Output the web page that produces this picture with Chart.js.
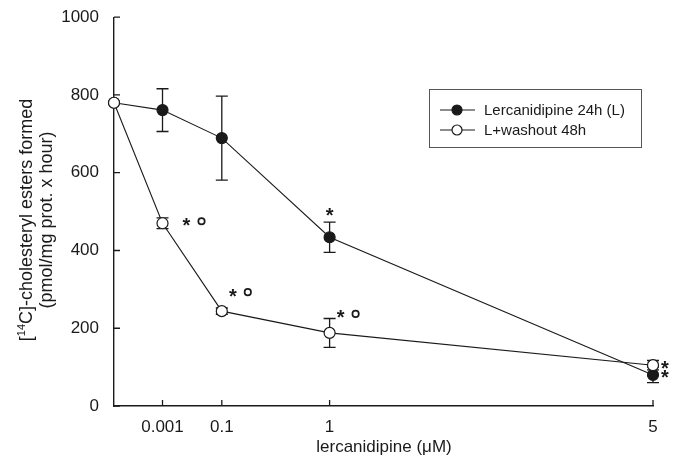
<!DOCTYPE html>
<html>
<head>
<meta charset="utf-8">
<script src="https://cdn.jsdelivr.net/npm/chart.js@4.4.0/dist/chart.umd.min.js"></script>
<style>
  html, body { margin: 0; padding: 0; background: #fff; }
  #wrap { width: 678px; height: 457px; }
</style>
</head>
<body>
<div id="wrap"><canvas id="myChart" width="678" height="457"></canvas></div>
<script>
// concentrations (uM) and where they sit on the drawn x axis
const doseLabels = ["", "0.001", "0.1", "1", "5"]
const dosePos = [0, 0.45, 1, 2, 5]

const lercMean = [780, 761, 689, 434, 80]
const lercErr = [0, 55, 108, 39, 20]
const washMean = [780, 470, 244, 188, 105]
const washErr = [0, 14, 8, 37, 12]

const yTicks = [0, 200, 400, 600, 800, 1000]

// significance marks: [series, index, text]
const marks = [
    ["wash", 1, "*o"],
    ["wash", 2, "*o"],
    ["wash", 3, "*o"],
    ["lerc", 3, "*up"],
    ["wash", 4, "*"],
    ["lerc", 4, "*"],
]

const FONT = "'Liberation Sans', Arial, sans-serif"
const INK = "#1a1a1a"

const toPoints = (arr) => arr.map((v, i) => ({ x: dosePos[i], y: v }))

const errorBars = {
    id: "errorBars",
    beforeDatasetsDraw(chart) {
        const ctx = chart.ctx
        const xs = chart.scales.x, ys = chart.scales.y
        const sets = [[lercMean, lercErr], [washMean, washErr]]
        ctx.save()
        ctx.strokeStyle = INK
        ctx.lineWidth = 1.3
        for (const [m, e] of sets) {
            m.forEach((v, i) => {
                if (!e[i]) return
                const x = xs.getPixelForValue(dosePos[i])
                const top = ys.getPixelForValue(v + e[i])
                const bot = ys.getPixelForValue(v - e[i])
                ctx.beginPath()
                ctx.moveTo(x, top); ctx.lineTo(x, bot)
                ctx.moveTo(x - 6, top); ctx.lineTo(x + 6, top)
                ctx.moveTo(x - 6, bot); ctx.lineTo(x + 6, bot)
                ctx.stroke()
            })
        }
        ctx.restore()
    }
}

const extras = {
    id: "extras",
    afterDraw(chart) {
        const ctx = chart.ctx
        const xs = chart.scales.x, ys = chart.scales.y
        const area = chart.chartArea
        ctx.save()
        ctx.strokeStyle = INK
        ctx.fillStyle = INK
        ctx.lineWidth = 1.3

        // inward ticks
        ctx.beginPath()
        yTicks.forEach(t => {
            const y = ys.getPixelForValue(t)
            ctx.moveTo(area.left, y); ctx.lineTo(area.left + 6, y)
        })
        dosePos.slice(1).forEach(p => {
            const x = xs.getPixelForValue(p)
            ctx.moveTo(x, area.bottom); ctx.lineTo(x, area.bottom - 6)
        })
        ctx.stroke()

        // significance marks
        ctx.font = "bold 20px " + FONT
        ctx.textAlign = "center"
        ctx.textBaseline = "middle"
        marks.forEach(([s, i, txt]) => {
            const vals = s === "lerc" ? lercMean : washMean
            const px = xs.getPixelForValue(dosePos[i])
            const py = ys.getPixelForValue(vals[i])
            let ax, ay
            if (txt === "*up") { ax = px; ay = py - 26 }
            else if (i === 4) { ax = px + 12; ay = py - 1 }
            else if (i === 1) { ax = px + 24; ay = py - 2 }
            else { ax = px + 11; ay = py - 19 }
            ctx.fillText("*", ax, ay + 5)
            if (txt === "*o") {
                ctx.beginPath()
                ctx.lineWidth = 1.7
                ctx.arc(ax + 15, ay, 3.2, 0, Math.PI * 2)
                ctx.stroke()
            }
        })

        // legend box
        const lx = 429, ly = 89, lw = 212, lh = 58
        ctx.lineWidth = 1
        ctx.strokeStyle = "#555"
        ctx.strokeRect(lx + 0.5, ly + 0.5, lw, lh)
        ctx.strokeStyle = INK
        const rows = [["Lercanidipine 24h (L)", INK], ["L+washout 48h", "#fff"]]
        ctx.font = "15px " + FONT
        ctx.textAlign = "left"
        rows.forEach(([label, fill], k) => {
            const y = ly + 21 + k * 20
            ctx.lineWidth = 1.2
            ctx.beginPath()
            ctx.moveTo(lx + 11, y); ctx.lineTo(lx + 46, y)
            ctx.stroke()
            ctx.beginPath()
            ctx.arc(lx + 28, y, 5, 0, Math.PI * 2)
            ctx.fillStyle = fill
            ctx.fill()
            ctx.stroke()
            ctx.fillStyle = INK
            ctx.fillText(label, lx + 55, y + 1)
        })

        // x title
        ctx.font = "17px " + FONT
        ctx.textAlign = "center"
        ctx.fillText("lercanidipine (\u03bcM)", 384, 447)

        // y title with superscript
        ctx.save()
        ctx.translate(27, 220)
        ctx.rotate(-Math.PI / 2)
        ctx.textBaseline = "middle"
        ctx.textAlign = "left"
        const p1 = "[", sup = "14", p2 = "C]-cholesteryl esters formed"
        ctx.font = "18px " + FONT
        const w1 = ctx.measureText(p1).width, w3 = ctx.measureText(p2).width
        ctx.font = "11px " + FONT
        const w2 = ctx.measureText(sup).width
        let x0 = -(w1 + w2 + w3) / 2
        ctx.font = "18px " + FONT
        ctx.fillText(p1, x0, 0)
        ctx.font = "11px " + FONT
        ctx.fillText(sup, x0 + w1, -5)
        ctx.font = "18px " + FONT
        ctx.fillText(p2, x0 + w1 + w2, 0)
        ctx.textAlign = "center"
        ctx.fillText("(pmol/mg prot. x hour)", 0, 20)
        ctx.restore()

        ctx.restore()
    }
}

new Chart(document.getElementById("myChart"), {
    type: "line",
    data: {
        datasets: [
            {
                label: "L+washout 48h",
                data: toPoints(washMean),
                borderColor: INK,
                borderWidth: 1.1,
                pointRadius: 5.5,
                pointBackgroundColor: "#fff",
                pointBorderColor: INK,
                pointBorderWidth: 1.2,
                tension: 0,
                clip: false,
            },
            {
                label: "Lercanidipine 24h (L)",
                data: toPoints(lercMean),
                borderColor: INK,
                borderWidth: 1.1,
                pointRadius: 5.5,
                pointBackgroundColor: INK,
                pointBorderColor: INK,
                pointBorderWidth: 1.2,
                tension: 0,
                clip: false,
            },
        ]
    },
    options: {
        responsive: false,
        animation: false,
        events: [],
        layout: { padding: { top: 17, right: 25, left: 0, bottom: 0 } },
        plugins: { legend: { display: false }, tooltip: { enabled: false } },
        scales: {
            x: {
                type: "linear",
                min: 0, max: 5,
                afterBuildTicks: (s) => { s.ticks = dosePos.slice(1).map(v => ({ value: v })) },
                afterFit: (s) => { s.height = 51 },
                grid: { display: false },
                border: { display: true, color: INK, width: 1.4 },
                ticks: {
                    autoSkip: false,
                    maxRotation: 0,
                    padding: 3,
                    color: INK,
                    font: { family: FONT, size: 17 },
                    callback: (v) => doseLabels[dosePos.indexOf(v)] || "",
                },
            },
            y: {
                min: 0, max: 1000,
                afterBuildTicks: (s) => { s.ticks = yTicks.map(v => ({ value: v })) },
                afterFit: (s) => { s.width = 114 },
                grid: { display: false },
                border: { display: true, color: INK, width: 1.4 },
                ticks: {
                    padding: 7,
                    color: INK,
                    font: { family: FONT, size: 17 },
                    callback: (v) => String(v),
                },
            },
        },
    },
    plugins: [errorBars, extras],
})
</script>
</body>
</html>
